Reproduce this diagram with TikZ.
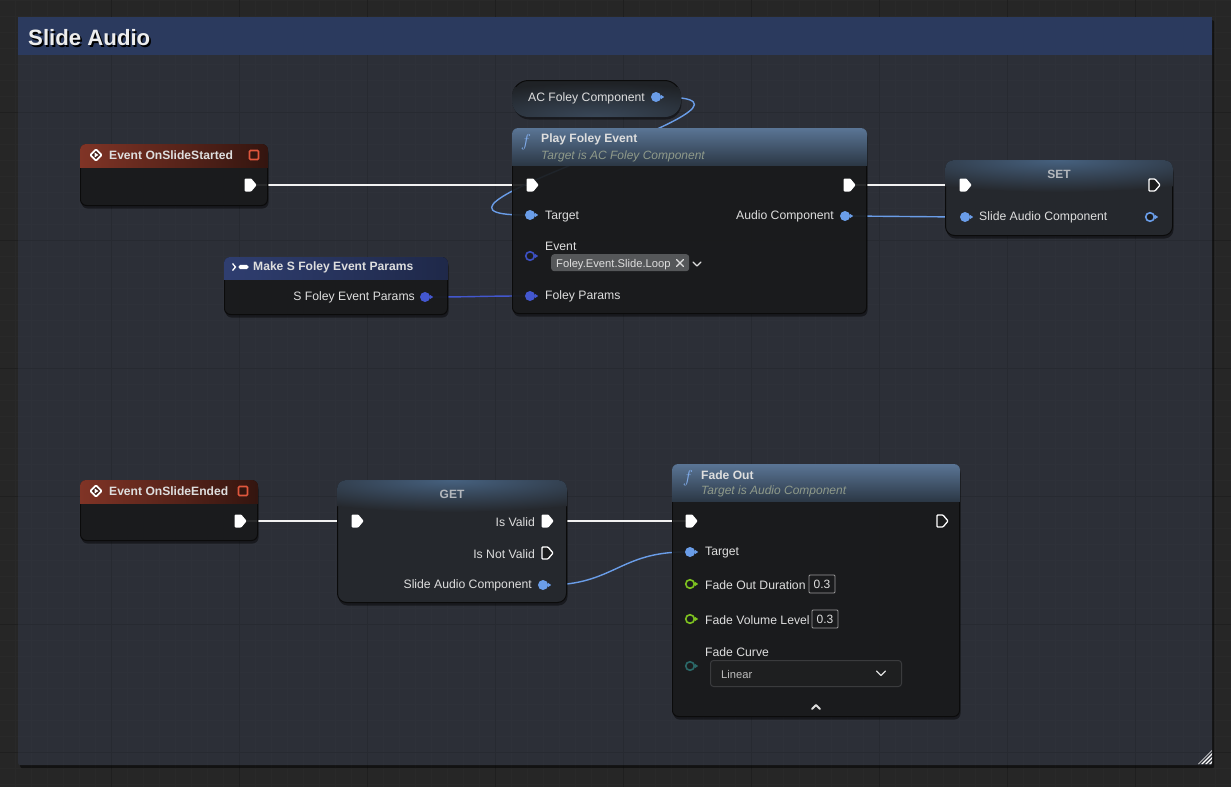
\documentclass[tikz,border=0pt]{standalone}
\usepackage{fontspec}
\setmainfont{Liberation Sans}
\usepackage{tikz}
\usetikzlibrary{shapes.symbols, shadows, positioning, calc}
\definecolor{bgdark}{HTML}{262626}
\definecolor{bgminor}{HTML}{292929}
\definecolor{bgmajor}{HTML}{1F1F1F}
\definecolor{cmtbody}{HTML}{2C2F37}
\definecolor{cmtminor}{HTML}{2E3139}
\definecolor{cmtmajor}{HTML}{272A31}
\definecolor{cmthead}{HTML}{2B3A5E}
\definecolor{nodebody}{HTML}{1B1C1D}
\definecolor{nodeedge}{HTML}{0B0B0B}
\definecolor{varbody}{HTML}{25282D}
\definecolor{varglow}{HTML}{46617F}
\definecolor{pillbody}{HTML}{1F2226}
\definecolor{pillglow}{HTML}{3A4859}
\definecolor{evred}{HTML}{803426}
\definecolor{evsquare}{HTML}{E0573D}
\definecolor{fnblue}{HTML}{5A7595}
\definecolor{fnhead}{HTML}{2C3846}
\definecolor{structnavy}{HTML}{2F3E70}
\definecolor{objblue}{HTML}{6A9DE8}
\definecolor{structblue}{HTML}{4357CF}
\definecolor{tagblue}{HTML}{3C50C2}
\definecolor{floatgreen}{HTML}{7EC220}
\definecolor{enumteal}{HTML}{2B6868}
\definecolor{textmain}{HTML}{DEDEDE}
\definecolor{textsub}{HTML}{8F9A8A}
\definecolor{vartitle}{HTML}{B4B8BD}
\definecolor{tagfill}{HTML}{555759}
\definecolor{valedge}{HTML}{9A9A9A}
\definecolor{dropedge}{HTML}{3A3B3D}
\definecolor{dropfill}{HTML}{1E1F20}
\definecolor{wirewhite}{HTML}{F2F2F2}
\pgfdeclarelayer{back}
\pgfdeclarelayer{wires}
\pgfsetlayers{back,wires,main}

\begin{document}
\begin{tikzpicture}[x=1pt, y=-1pt,
  bpnode/.style={rectangle, anchor=north west, inner sep=0, rounded corners=6pt,
                 fill=nodebody, fill opacity=0.86, draw=nodeedge, line width=1pt,
                 drop shadow={shadow xshift=1pt, shadow yshift=-3pt, opacity=0.45, fill=black}},
  varnode/.style={bpnode, fill=varbody, fill opacity=1, rounded corners=9pt},
  pillnode/.style={bpnode, fill=pillbody, fill opacity=1, rounded corners=16pt},
  cmtbox/.style={rectangle, anchor=north west, inner sep=0, fill=cmtbody, rounded corners=2pt,
                 drop shadow={shadow xshift=2pt, shadow yshift=-3pt, opacity=0.5, fill=black}},
  lbl/.style={inner sep=0, yshift=-1.3pt, text=textmain, font=\fontsize{12.2}{14}\selectfont},
  ttl/.style={inner sep=0, yshift=-0.6pt, anchor=west, text=textmain, font=\fontsize{12.1}{14}\selectfont\bfseries},
  sub/.style={inner sep=0, yshift=-0.8pt, anchor=west, text=textsub, font=\fontsize{12}{14}\selectfont\itshape},
  vttl/.style={inner sep=0, yshift=-0.8pt, text=vartitle, font=\fontsize{12}{14}\selectfont\bfseries},
  xpin/.style={signal, signal to=east, signal pointer angle=100, inner sep=0,
               minimum width=12pt, minimum height=13pt, fill=white, rounded corners=0.8pt},
  xpinopen/.style={xpin, fill=nodebody, draw=white, line width=1.3pt, minimum width=11pt, minimum height=12pt},
  dpin/.style={circle, inner sep=0, minimum size=10pt, fill=#1},
  dpinopen/.style={circle, inner sep=0, minimum size=8.6pt, fill=nodebody, draw=#1, line width=1.6pt},
  evsq/.style={rectangle, inner sep=0, minimum size=9pt, fill=evred!40!black, draw=evsquare, line width=1.6pt, rounded corners=1pt},
  evicon/.style={rectangle, rotate=45, inner sep=0, minimum size=8pt, fill=evred!50!black, draw=white, line width=1.8pt, rounded corners=1pt},
  fnicon/.style={inner sep=0, text=objblue!85!white, font=\fontsize{17}{17}\selectfont},
  valbox/.style={rectangle, inner sep=0, minimum width=26pt, minimum height=18pt, draw=valedge, line width=0.8pt,
                 rounded corners=1pt, text=textmain, font=\fontsize{12}{14}\selectfont},
  chev/.style={draw=textmain, line width=1.4pt, line cap=round, line join=round},
  wexec/.style={draw=wirewhite, line width=2.6pt},
  wdata/.style={draw=#1, line width=1.4pt},
  gminor/.style={draw=#1, line width=0.6pt},
  gmajor/.style={draw=#1, line width=1pt},
]
\useasboundingbox (0,0) rectangle (1231,787);

\begin{pgfonlayer}{back}
%% --- canvas grid ---
\fill[bgdark] (0,0) rectangle (1231,787);
\foreach \gx in {15,31,...,1231} \draw[gminor=bgminor] (\gx,0) -- (\gx,787);
\foreach \gy in {0,16,...,784} \draw[gminor=bgminor] (0,\gy) -- (1231,\gy);
\foreach \gx in {111,239,...,1135} \draw[gmajor=bgmajor] (\gx,0) -- (\gx,787);
\foreach \gy in {112,240,...,752} \draw[gmajor=bgmajor] (0,\gy) -- (1231,\gy);

%% --- comment box ---
\node[cmtbox, minimum width=1194pt, minimum height=748pt] (cmt) at (18,17) {};
\begin{scope}
  \clip (cmt.north west) rectangle (cmt.south east);
  \foreach \gx in {31,47,...,1199} \draw[gminor=cmtminor] (\gx,17) -- (\gx,765);
  \foreach \gy in {64,80,...,752} \draw[gminor=cmtminor] (18,\gy) -- (1212,\gy);
  \foreach \gx in {111,239,...,1135} \draw[gmajor=cmtmajor] (\gx,17) -- (\gx,765);
  \foreach \gy in {112,240,...,752} \draw[gmajor=cmtmajor] (18,\gy) -- (1212,\gy);
\end{scope}
\fill[cmthead] (cmt.north west) rectangle ([yshift=-38pt]cmt.north east);
\node[inner sep=0, anchor=west, text=black, font=\fontsize{22.2}{24}\selectfont\bfseries] (cmtShadow) at (29.6,39.6) {Slide Audio};
\node[inner sep=0, anchor=west, text=white!93!black, font=\fontsize{22.2}{24}\selectfont\bfseries] (cmtTitle) at (28,38) {Slide Audio};
% resize grip
\begin{scope}
  \clip (1198,764) -- (1212,764) -- (1212,750) -- cycle;
  \foreach \gd in {0,4,8,12} \draw[white, line width=1.2pt] (1196+\gd,766) -- (1214,748+\gd);
\end{scope}
\end{pgfonlayer}

%% --- Event OnSlideStarted ---
\node[bpnode, minimum width=187pt, minimum height=61pt] (evStart) at (80,144) {};
\begin{scope}
  \clip[rounded corners=6pt] (evStart.north west) rectangle (evStart.south east);
  \shade[left color=evred, right color=evred!40!black] (evStart.north west) rectangle ([yshift=-23pt]evStart.north east);
\end{scope}
\node[evicon] (evStartIcon) at (96,155) {};
\fill[white] ([xshift=-1.5pt,yshift=2.6pt]evStartIcon.center) -- ++(4pt,-2.6pt) -- ++(-4pt,-2.6pt) -- cycle;
\node[ttl] (evStartTitle) at (109,155) {Event OnSlideStarted};
\node[evsq] (evStartSq) at (254,155) {};
\node[xpin] (evStartOut) at (248,185) {};

%% --- AC Foley Component ---
\node[pillnode, minimum width=168pt, minimum height=36pt] (acFoley) at (512,80) {};
\begin{scope}
  \clip[rounded corners=16pt] (acFoley.north west) rectangle (acFoley.south east);
  \shade[inner color=pillglow, outer color=pillbody] (acFoley.south) ellipse (170pt and 34pt);
\end{scope}
\node[lbl, anchor=east] (acFoleyText) at (645,97) {AC Foley Component};
\node[dpin=objblue] (acOut) at (656,97) {};

%% --- Play Foley Event ---
\node[bpnode, minimum width=354pt, minimum height=185pt] (playFoley) at (512,128) {};
\begin{scope}
  \clip[rounded corners=6pt] (playFoley.north west) rectangle (playFoley.south east);
  \shade[top color=fnblue, bottom color=fnhead] (playFoley.north west) rectangle ([yshift=-37pt]playFoley.north east);
\end{scope}
\node[fnicon] (playFoleyIcon) at (526,142) {$f$};
\node[ttl] (playFoleyTitle) at (541,139) {Play Foley Event};
\node[sub] (playFoleySub) at (541,156) {Target is AC Foley Component};
\node[xpin] (pfExecIn) at (530,185) {};
\node[xpin] (pfExecOut) at (847,185) {};
\node[dpin=objblue] (pfTarget) at (530,215) {};
\node[lbl, anchor=west] (pfTargetText) at (545,215) {Target};
\node[dpin=objblue] (pfAudio) at (845,216) {};
\node[lbl, anchor=east] (pfAudioText) at (834,215) {Audio Component};
\node[dpinopen=tagblue] (pfEvent) at (530,256) {};
\node[lbl, anchor=west] (pfEventText) at (545,245) {Event};
\node[rectangle, anchor=north west, fill=tagfill, rounded corners=3pt, minimum width=138pt, minimum height=17pt] (pfTag) at (551,254) {};
\node[lbl, anchor=west, font=\fontsize{11.2}{13}\selectfont] (pfTagText) at (556,263) {Foley.Event.Slide.Loop};
\draw[chev, line width=1.2pt] (676.5,259.5) -- (683.5,266.5) (683.5,259.5) -- (676.5,266.5);
\draw[chev, line width=1.2pt] (693,262) -- (697,266) -- (701,262);
\node[dpin=structblue] (pfParams) at (530,296) {};
\node[lbl, anchor=west] (pfParamsText) at (545,295) {Foley Params};

%% --- SET ---
\node[varnode, minimum width=227pt, minimum height=75pt] (setNode) at (945,160) {};
\begin{scope}
  \clip[rounded corners=9pt] (setNode.north west) rectangle (setNode.south east);
  \shade[inner color=varglow, outer color=varbody] (setNode.north) ellipse (200pt and 32pt);
\end{scope}
\node[vttl] (setTitle) at (1059,174) {SET};
\node[xpin] (setExecIn) at (963,185) {};
\node[xpinopen] (setExecOut) at (1152,185) {};
\node[dpin=objblue] (setIn) at (965,217) {};
\node[lbl, anchor=west] (setInText) at (979,216) {Slide Audio Component};
\node[dpinopen=objblue] (setOut) at (1150,217) {};

%% --- Make S Foley Event Params ---
\node[bpnode, minimum width=223pt, minimum height=57pt] (makeParams) at (224,257) {};
\begin{scope}
  \clip[rounded corners=6pt] (makeParams.north west) rectangle (makeParams.south east);
  \shade[left color=structnavy, right color=structnavy!65!black] (makeParams.north west) rectangle ([yshift=-22pt]makeParams.north east);
\end{scope}
\draw[white, line width=1.3pt] (232.5,263.5) -- (235.5,267) -- (232.5,270.5);
\fill[white, rounded corners=1.8pt] (238.5,264.8) rectangle (248.5,269.2);
\node[ttl] (makeParamsTitle) at (253,267) {Make S Foley Event Params};
\node[lbl, anchor=east] (mkOutText) at (415,296) {S Foley Event Params};
\node[dpin=structblue] (mkOut) at (425,297) {};

%% --- Event OnSlideEnded ---
\node[bpnode, minimum width=177pt, minimum height=60pt] (evEnd) at (80,480) {};
\begin{scope}
  \clip[rounded corners=6pt] (evEnd.north west) rectangle (evEnd.south east);
  \shade[left color=evred, right color=evred!40!black] (evEnd.north west) rectangle ([yshift=-23pt]evEnd.north east);
\end{scope}
\node[evicon] (evEndIcon) at (96,491) {};
\fill[white] ([xshift=-1.5pt,yshift=2.6pt]evEndIcon.center) -- ++(4pt,-2.6pt) -- ++(-4pt,-2.6pt) -- cycle;
\node[ttl] (evEndTitle) at (109,491) {Event OnSlideEnded};
\node[evsq] (evEndSq) at (243,491) {};
\node[xpin] (evEndOut) at (238,521) {};

%% --- GET ---
\node[varnode, minimum width=229pt, minimum height=122pt] (getNode) at (337,480) {};
\begin{scope}
  \clip[rounded corners=9pt] (getNode.north west) rectangle (getNode.south east);
  \shade[inner color=varglow, outer color=varbody] (getNode.north) ellipse (200pt and 32pt);
\end{scope}
\node[vttl] (getTitle) at (452,494) {GET};
\node[xpin] (getExecIn) at (355,521) {};
\node[xpin] (getValid) at (545,521) {};
\node[lbl, anchor=east] (getValidText) at (535,521) {Is Valid};
\node[xpinopen] (getNotValid) at (545,553) {};
\node[lbl, anchor=east] (getNotValidText) at (535,553) {Is Not Valid};
\node[dpin=objblue] (getOut) at (543,585) {};
\node[lbl, anchor=east] (getOutText) at (532,584) {Slide Audio Component};

%% --- Fade Out ---
\node[bpnode, minimum width=287pt, minimum height=252pt] (fadeOut) at (672,464) {};
\begin{scope}
  \clip[rounded corners=6pt] (fadeOut.north west) rectangle (fadeOut.south east);
  \shade[top color=fnblue, bottom color=fnhead] (fadeOut.north west) rectangle ([yshift=-37pt]fadeOut.north east);
\end{scope}
\node[fnicon] (fadeOutIcon) at (688,478) {$f$};
\node[ttl] (fadeOutTitle) at (701,475) {Fade Out};
\node[sub] (fadeOutSub) at (701,491) {Target is Audio Component};
\node[xpin] (foExecIn) at (689,521) {};
\node[xpinopen] (foExecOut) at (940,521) {};
\node[dpin=objblue] (foTarget) at (690,552) {};
\node[lbl, anchor=west] (foTargetText) at (705,551) {Target};
\node[dpinopen=floatgreen] (foDuration) at (690,584) {};
\node[lbl, anchor=west] (foDurationText) at (705,584) {Fade Out Duration};
\node[valbox] (foDurationVal) at (822,584) {0.3};
\node[dpinopen=floatgreen] (foVolume) at (690,619) {};
\node[lbl, anchor=west] (foVolumeText) at (705,619) {Fade Volume Level};
\node[valbox] (foVolumeVal) at (825,619) {0.3};
\node[dpinopen=enumteal] (foCurve) at (690,666) {};
\node[lbl, anchor=west] (foCurveText) at (705,651) {Fade Curve};
\node[rectangle, anchor=north west, fill=dropfill, draw=dropedge, line width=1pt, rounded corners=3pt,
      minimum width=191pt, minimum height=26pt] (foCurveBox) at (710,660) {};
\node[lbl, anchor=west, text=textmain!85!black, font=\fontsize{11.2}{13}\selectfont] (foCurveSel) at (721,673) {Linear};
\draw[chev, line width=1.2pt] (876.5,671) -- (881,675.5) -- (885.5,671);
\draw[chev, line width=1.8pt] (812,709) -- (816,705) -- (820,709);

%% --- pin arrow tips ---
\foreach \p/\c in {acOut/objblue, pfTarget/objblue, pfAudio/objblue, pfEvent/tagblue, pfParams/structblue,
                   setIn/objblue, setOut/objblue, mkOut/structblue, getOut/objblue, foTarget/objblue,
                   foDuration/floatgreen, foVolume/floatgreen, foCurve/enumteal}
  \fill[\c] ([xshift=4.6pt,yshift=2.4pt]\p.center) -- ++(3.6pt,-2.4pt) -- ++(-3.6pt,-2.4pt) -- cycle;

%% --- wires ---
\begin{pgfonlayer}{wires}
\draw[wexec] (evStartOut) -- (pfExecIn);
\draw[wexec] (pfExecOut) -- (setExecIn);
\draw[wexec] (evEndOut) -- (getExecIn);
\draw[wexec] (getValid) -- (foExecIn);
\draw[wdata=objblue] (acOut) .. controls +(160,0) and +(-160,0) .. (pfTarget);
\draw[wdata=objblue] (pfAudio) .. controls +(60,0) and +(-60,0) .. (setIn);
\draw[wdata=structblue] (mkOut) .. controls +(50,0) and +(-50,0) .. (pfParams);
\draw[wdata=objblue] (getOut) .. controls +(70,0) and +(-70,0) .. (foTarget);
\end{pgfonlayer}
\end{tikzpicture}
\end{document}
